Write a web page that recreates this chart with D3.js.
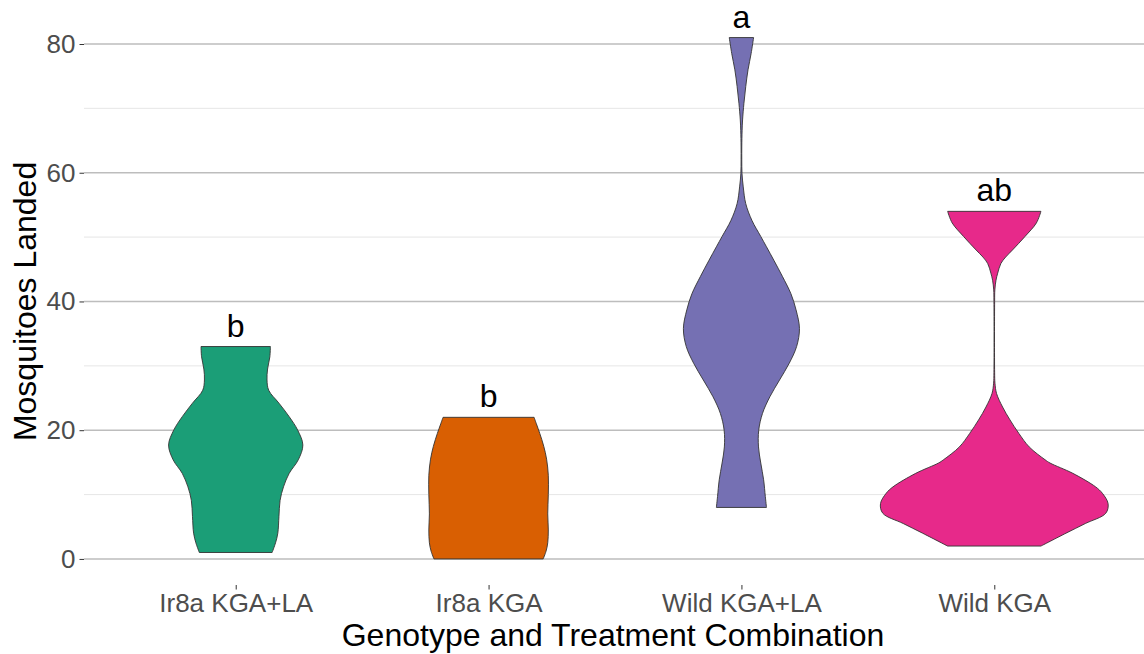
<!DOCTYPE html>
<html>
<head>
<meta charset="utf-8">
<script src="https://cdn.jsdelivr.net/npm/d3@7/dist/d3.min.js"></script>
<style>
  html, body { margin: 0; padding: 0; background: #ffffff; }
  svg { display: block; }
  text { font-family: "Liberation Sans", Arial, Helvetica, sans-serif; }
</style>
</head>
<body>
<svg id="chart" width="1144" height="654"></svg>
<script>
// Groups on the x axis
const categories = ["Ir8a KGA+LA", "Ir8a KGA", "Wild KGA+LA", "Wild KGA"];
const fills = ["#1b9e77", "#d95f02", "#7570b3", "#e7298a"];
const letters = ["b", "b", "a", "ab"];

// Violin profiles: [mosquitoes landed, relative density width (1 = widest violin)]
const densityIr8aKgaLa = [
  [1.0, 0.32], [2.5, 0.35], [4.0, 0.37], [6.6, 0.38], [9.1, 0.39], [11.2, 0.42],
  [13.3, 0.47], [15.4, 0.55], [17.7, 0.59], [20.0, 0.545], [22.1, 0.47],
  [24.2, 0.38], [26.2, 0.29], [27.8, 0.275], [29.5, 0.28], [31.4, 0.30], [33.0, 0.305]
];
const densityIr8aKga = [
  [0.0, 0.48], [1.2, 0.505], [2.5, 0.52], [4.5, 0.525], [7.0, 0.52], [10.0, 0.525],
  [13.0, 0.525], [15.5, 0.51], [17.5, 0.485], [19.5, 0.45], [21.0, 0.42], [22.0, 0.40]
];
const densityWildKgaLa = [
  [8.0, 0.22], [9.7, 0.21], [12.3, 0.195], [14.9, 0.17], [17.4, 0.15], [20.0, 0.152],
  [22.6, 0.185], [25.2, 0.25], [27.8, 0.335], [30.4, 0.42], [33.0, 0.485], [35.8, 0.51],
  [38.7, 0.48], [41.2, 0.435], [43.9, 0.36], [46.4, 0.285], [48.5, 0.22], [50.1, 0.17],
  [52.6, 0.092], [55.2, 0.038], [57.8, 0.016], [59.9, 0.005], [62.0, 0.003], [64.0, 0.003],
  [66.6, 0.006], [68.2, 0.01], [70.8, 0.022], [73.4, 0.038], [76.0, 0.058], [78.5, 0.085],
  [81.0, 0.107]
];
const densityWildKga = [
  [2.0, 0.41], [4.0, 0.63], [5.5, 0.80], [7.1, 0.98], [8.6, 1.0], [10.2, 0.95], [11.2, 0.89],
  [13.3, 0.69], [14.9, 0.49], [15.4, 0.447], [17.4, 0.307], [19.5, 0.216], [21.6, 0.138],
  [23.6, 0.073], [25.7, 0.02], [27.3, 0.006], [29.0, 0.003], [40.0, 0.003], [41.8, 0.005],
  [43.3, 0.015], [44.4, 0.03], [45.9, 0.058], [46.9, 0.10], [48.0, 0.16], [50.1, 0.27],
  [52.2, 0.37], [54.0, 0.41]
];
const profiles = [densityIr8aKgaLa, densityIr8aKga, densityWildKgaLa, densityWildKga];

// Axis ticks
const yMajorTicks = [0, 20, 40, 60, 80];
const yMinorTicks = [10, 30, 50, 70];

const svg = d3.select("#chart");
const panel = { left: 84, right: 1146, top: 11.5, bottom: 585 };

const y = d3.scaleLinear().domain([-4.05, 85.05]).range([panel.bottom, panel.top]);
const x = d3.scalePoint().domain(categories).range([panel.left, panel.right]).padding(0.6);
const w = d3.scaleLinear().domain([0, 1]).range([0, 0.45 * x.step()]);

// Grid
const grid = svg.append("g");
grid.selectAll("line.minor").data(yMinorTicks).join("line")
  .attr("class", "minor")
  .attr("x1", panel.left).attr("x2", panel.right)
  .attr("y1", d => y(d)).attr("y2", d => y(d))
  .attr("stroke", "#e3e3e3").attr("stroke-width", 0.9);
grid.selectAll("line.major").data(yMajorTicks).join("line")
  .attr("class", "major")
  .attr("x1", panel.left).attr("x2", panel.right)
  .attr("y1", d => y(d)).attr("y2", d => y(d))
  .attr("stroke", "#bdbdbd").attr("stroke-width", 1.4);

// Y axis
const yAxis = d3.axisLeft(y).tickValues(yMajorTicks).tickSize(4.5).tickPadding(4);
const gy = svg.append("g").attr("transform", `translate(${panel.left},0)`).call(yAxis);
gy.select(".domain").remove();
gy.selectAll(".tick line").attr("stroke", "#333333").attr("stroke-width", 1);
gy.selectAll(".tick text").attr("fill", "#4d4d4d").style("font-size", "26px")
  .style("font-family", '"Liberation Sans", Arial, sans-serif');

// X axis
const xAxis = d3.axisBottom(x).tickSize(4.5).tickPadding(4);
const gx = svg.append("g").attr("transform", `translate(0,${panel.bottom})`).call(xAxis);
gx.select(".domain").remove();
gx.selectAll(".tick line").attr("stroke", "#333333").attr("stroke-width", 1);
gx.selectAll(".tick text").attr("fill", "#4d4d4d").style("font-size", "26px")
  .style("font-family", '"Liberation Sans", Arial, sans-serif');

// Violins
const violin = (cx) => d3.area()
  .y(d => y(d[0]))
  .x0(d => cx - w(d[1]))
  .x1(d => cx + w(d[1]))
  .curve(d3.curveCatmullRom.alpha(0.5));

const vg = svg.append("g");
categories.forEach((c, i) => {
  vg.append("path")
    .datum(profiles[i])
    .attr("d", violin(x(c)))
    .attr("fill", fills[i])
    .attr("stroke", "#333333")
    .attr("stroke-width", 0.9)
    .attr("stroke-linejoin", "round");
});

// Significance letters above each violin
categories.forEach((c, i) => {
  const top = d3.max(profiles[i], d => d[0]);
  svg.append("text")
    .attr("x", x(c)).attr("y", y(top) - 10)
    .attr("text-anchor", "middle")
    .attr("fill", "#000000")
    .style("font-size", "32px")
    .text(letters[i]);
});

// Axis titles
svg.append("text")
  .attr("x", (panel.left + panel.right) / 2 - 2).attr("y", 646)
  .attr("text-anchor", "middle").attr("fill", "#000000")
  .style("font-size", "32px")
  .text("Genotype and Treatment Combination");

svg.append("text")
  .attr("transform", `translate(36,${(y(0) + y(80)) / 2}) rotate(-90)`)
  .attr("text-anchor", "middle").attr("fill", "#000000")
  .style("font-size", "32px")
  .text("Mosquitoes Landed");
</script>
</body>
</html>
